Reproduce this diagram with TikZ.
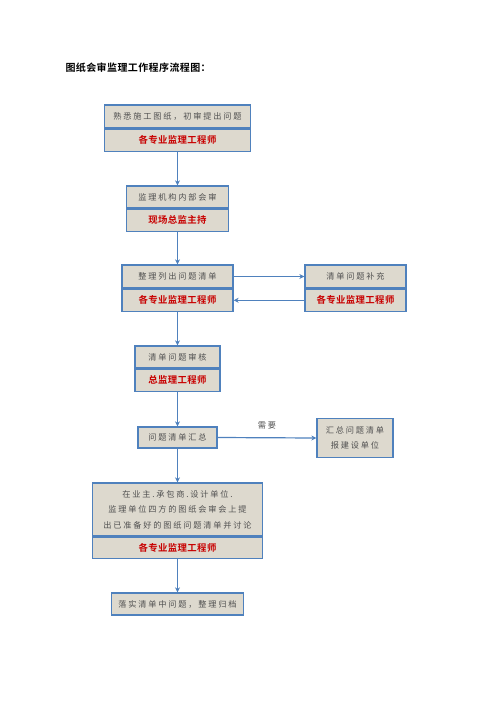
\documentclass[tikz,border=0pt]{standalone}
\usepackage{fontspec}
\usetikzlibrary{arrows.meta}
\newfontfamily\cjk[LetterSpace=22]{Noto Sans CJK SC}
\newfontfamily\cjkbold[LetterSpace=4]{Noto Sans CJK SC Bold}
\newfontfamily\cjktitle[LetterSpace=4]{Noto Sans CJK SC Bold}
\definecolor{boxfill}{RGB}{221,217,206}
\definecolor{boxline}{RGB}{79,129,189}
\definecolor{stepgray}{RGB}{80,80,80}
\definecolor{engred}{RGB}{200,0,0}
\tikzstyle{task}=[draw=boxline, line width=1.3pt, fill=boxfill, text=stepgray, inner sep=0pt, align=center,
  font={\cjk\fontsize{8.2}{15.5}\selectfont}]
\tikzstyle{duty}=[task, text=engred, font={\cjkbold\fontsize{9.4}{11}\selectfont}]
\tikzstyle{flow}=[draw=boxline, line width=1.2pt, -{Stealth[length=5pt,width=5pt]}]

\begin{document}
\begin{tikzpicture}[x=1pt, y=-1pt]
            \useasboundingbox (0,0) rectangle (496,702);

            \node[anchor=west, font={\cjktitle\fontsize{10}{12}\selectfont}] (title) at (62,68) {图纸会审监理工作程序流程图：};

            % main chain
            \node[task, minimum width=146pt, minimum height=23pt] (survey) at (177.5,116.5) {熟悉施工图纸，初审提出问题};
            \node[duty, minimum width=146pt, minimum height=22pt, anchor=north] (surveyduty) at (survey.south) {各专业监理工程师};

            \node[task, minimum width=102pt, minimum height=22pt] (meeting) at (177.5,197) {监理机构内部会审};
            \node[duty, minimum width=102pt, minimum height=22pt, anchor=north] (meetingduty) at (meeting.south) {现场总监主持};

            \node[task, minimum width=111pt, minimum height=23pt] (listing) at (177.5,276.5) {整理列出问题清单};
            \node[duty, minimum width=111pt, minimum height=22pt, anchor=north] (listingduty) at (listing.south) {各专业监理工程师};

            \node[task, minimum width=101pt, minimum height=23pt] (supplement) at (355.5,276.5) {清单问题补充};
            \node[duty, minimum width=101pt, minimum height=22pt, anchor=north] (supplementduty) at (supplement.south) {各专业监理工程师};

            \node[task, minimum width=85pt, minimum height=22pt] (review) at (177.5,357) {清单问题审核};
            \node[duty, minimum width=85pt, minimum height=22pt, anchor=north] (reviewduty) at (review.south) {总监理工程师};

            \node[task, minimum width=79pt, minimum height=21pt] (summary) at (177.5,437.5) {问题清单汇总};
            \node[task, minimum width=76pt, minimum height=39pt] (report) at (355,438) {汇总问题清单\\报建设单位};

            \node[task, minimum width=170pt, minimum height=53pt] (discuss) at (177.5,509.5)
                {在业主.承包商.设计单位.\\监理单位四方的图纸会审会上提\\出已准备好的图纸问题清单并讨论};
            \node[duty, minimum width=170pt, minimum height=21pt, anchor=north] (discussduty) at (discuss.south) {各专业监理工程师};

            \node[task, minimum width=132pt, minimum height=22pt] (archive) at (177.5,604) {落实清单中问题，整理归档};

            % arrows
            \draw[flow] (surveyduty.south) -- (meeting.north);
            \draw[flow] (meetingduty.south) -- (listing.north);
            \draw[flow] (listing.east) -- (supplement.west);
            \draw[flow] (supplementduty.west) -- (listingduty.east);
            \draw[flow] (listingduty.south) -- (review.north);
            \draw[flow] (reviewduty.south) -- (summary.north);
            \draw[flow] (summary.east) -- (report.west)
                node[pos=0.5, above=5pt, text=stepgray, font={\cjk\fontsize{8.2}{10}\selectfont}]{需要};
            \draw[flow] (summary.south) -- (discuss.north);
            \draw[flow] (discussduty.south) -- (archive.north);
        \end{tikzpicture}
\end{document}
